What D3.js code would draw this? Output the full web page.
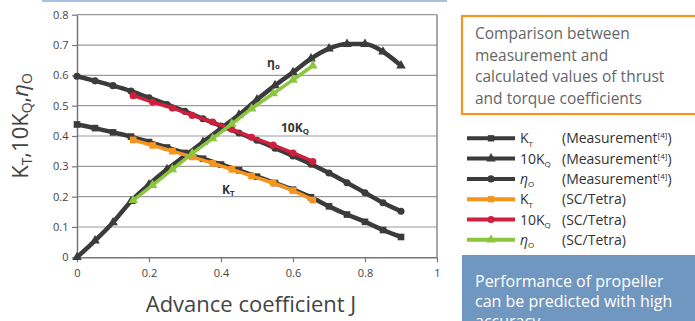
<!DOCTYPE html>
<html><head><meta charset="utf-8">
<script src="https://cdn.jsdelivr.net/npm/d3@7"></script>
<style>body{margin:0;background:#fff;}svg{display:block;font-family:"Open Sans",sans-serif;}</style>
</head><body>
<svg id="c" width="695" height="321"></svg>
<script>
// ---- data ----
const jMeas = [0,0.05,0.1,0.15,0.2,0.25,0.3,0.35,0.4,0.45,0.5,0.55,0.6,0.65,0.7,0.75,0.8,0.85,0.9];
const ktMeas = [0.438,0.426,0.412,0.398,0.38,0.362,0.344,0.325,0.306,0.287,0.266,0.245,0.223,0.198,0.168,0.141,0.117,0.09,0.067];
const kqMeas = [0.597,0.582,0.566,0.548,0.526,0.504,0.481,0.457,0.433,0.41,0.386,0.36,0.334,0.307,0.278,0.246,0.213,0.18,0.152];
const etaMeas = [0,0.055,0.115,0.185,0.24,0.29,0.335,0.38,0.425,0.47,0.52,0.567,0.61,0.655,0.688,0.703,0.703,0.678,0.632];
const jSC = [0.156,0.21,0.265,0.32,0.377,0.43,0.485,0.545,0.6,0.655];
const ktSC = [0.387,0.369,0.35,0.331,0.31,0.29,0.268,0.245,0.22,0.189];
const kqSC = [0.533,0.512,0.492,0.468,0.446,0.422,0.396,0.37,0.344,0.316];
const etaSC = [0.188,0.238,0.29,0.342,0.392,0.44,0.49,0.54,0.585,0.632];
const xTicks = [0,0.2,0.4,0.6,0.8,1];
const yTicks = [0,0.1,0.2,0.3,0.4,0.5,0.6,0.7,0.8];
const legendSym = ["K","10K","η"];
const legendSub = ["T","Q","O"];
const legendSrc = ["(Measurement","(Measurement","(Measurement","(SC/Tetra)","(SC/Tetra)","(SC/Tetra)"];
const boxText = ["Comparison between","measurement and","calculated values of thrust","and torque coefficients"];
const noteText = ["Performance of propeller","can be predicted with high","accuracy"];

const C = {dark:"#3b3b3b", orange:"#f7941d", red:"#cf1f3d", green:"#8cc63f"};
const svg = d3.select("#c");
const x = d3.scaleLinear().domain([0,1]).range([77,437]);
const y = d3.scaleLinear().domain([0,0.8]).range([257.3,14.7]);

// top blue rule
svg.append("line").attr("x1",42).attr("x2",447).attr("y1",1).attr("y2",1).attr("stroke","#a9c1dd").attr("stroke-width",2);

// grid
svg.append("g").selectAll("line").data(yTicks.slice(1)).join("line")
  .attr("x1",x(0)).attr("x2",x(1)).attr("y1",d=>y(d)).attr("y2",d=>y(d))
  .attr("stroke","#9a9a9a").attr("stroke-width",1.2);
// right frame
svg.append("line").attr("x1",x(1)).attr("x2",x(1)).attr("y1",y(0.8)).attr("y2",y(0)).attr("stroke","#8a8a8a").attr("stroke-width",1.5);

const xa = svg.append("g").attr("transform",`translate(0,${y(0)})`)
  .call(d3.axisBottom(x).tickValues(xTicks).tickFormat(d3.format("")).tickSize(5).tickSizeOuter(0));
const ya = svg.append("g").attr("transform",`translate(${x(0)},0)`)
  .call(d3.axisLeft(y).tickValues(yTicks).tickFormat(d3.format("")).tickSize(5).tickSizeOuter(0));
[xa,ya].forEach(a=>{
  a.select(".domain").attr("stroke","#777").attr("stroke-width",1.5);
  a.selectAll(".tick line").attr("stroke","#777").attr("stroke-width",1.2);
  a.selectAll("text").attr("fill","#444").style("font-size","11px").style("font-family","Open Sans");
});
xa.selectAll("text").attr("dy","1.1em");
ya.selectAll("text").attr("dx","-0.05em");

// series
function zip(js,vs){return js.map((j,i)=>[j,vs[i]]);}
const line = d3.line().x(d=>x(d[0])).y(d=>y(d[1])).curve(d3.curveMonotoneX);
const sym = {sq:d3.symbolSquare, tri:d3.symbolTriangle, cir:d3.symbolCircle};
const symSize = {sq:44, tri:40, cir:40};
function series(js,vs,color,w,mk){
  const pts = zip(js,vs);
  svg.append("path").attr("d",line(pts)).attr("fill","none").attr("stroke",color).attr("stroke-width",w).attr("stroke-linejoin","round");
  svg.append("g").selectAll("path").data(pts).join("path")
    .attr("transform",d=>`translate(${x(d[0])},${y(d[1])})`)
    .attr("d",d3.symbol().type(sym[mk]).size(symSize[mk])).attr("fill",color);
}
series(jMeas,ktMeas,C.dark,4.5,"sq");
series(jMeas,kqMeas,C.dark,4.5,"cir");
series(jMeas,etaMeas,C.dark,4.5,"tri");
series(jSC,ktSC,C.orange,3.5,"sq");
series(jSC,kqSC,C.red,3.5,"cir");
series(jSC,etaSC,C.green,3.5,"tri");

// in-plot labels
function lab(px,py,main,sub,fs){
  const t = svg.append("text").attr("x",px).attr("y",py).attr("fill","#333").style("font-weight","bold").style("font-size",fs+"px");
  t.append("tspan").text(main);
  t.append("tspan").text(sub).attr("dy",2).style("font-size",(fs*0.65)+"px");
}
lab(267,67,"η","o",12);
lab(281,132,"10K","Q",12);
lab(222,194,"K","T",12);

// axis titles
svg.append("text").attr("x",251).attr("y",312).attr("text-anchor","middle").attr("fill","#444").style("font-size","22px").text("Advance coefficient J");
const yt = svg.append("text").attr("transform","translate(28,126) rotate(-90)").attr("text-anchor","middle").attr("fill","#444").style("font-size","22px");
yt.append("tspan").text("K");
yt.append("tspan").text("T").attr("dy",4).style("font-size","14px");
yt.append("tspan").text(",10K").attr("dy",-4);
yt.append("tspan").text("Q").attr("dy",4).style("font-size","14px");
yt.append("tspan").text(",").attr("dy",-4);
yt.append("tspan").text("η").style("font-style","italic");
yt.append("tspan").text("O").attr("dy",4).style("font-size","14px");

// orange box
svg.append("rect").attr("x",462).attr("y",16).attr("width",240).attr("height",98).attr("fill","#fff").attr("stroke",C.orange).attr("stroke-width",2.2);
svg.append("g").selectAll("text").data(boxText).join("text")
  .attr("x",475).attr("y",(d,i)=>39+i*21.5).attr("fill","#666").style("font-size","15.5px").text(d=>d);

// legend
const legColors = [C.dark,C.dark,C.dark,C.orange,C.red,C.green];
const legMk = ["sq","tri","cir","sq","cir","tri"];
legColors.forEach((c,i)=>{
  const cy = 138.3 + i*20.3;
  svg.append("line").attr("x1",467).attr("x2",515).attr("y1",cy).attr("y2",cy).attr("stroke",c).attr("stroke-width",4);
  svg.append("path").attr("transform",`translate(491,${cy})`).attr("d",d3.symbol().type(sym[legMk[i]]).size(40)).attr("fill",c);
  const t = svg.append("text").attr("x",520).attr("y",cy+5).attr("fill","#333").style("font-size","14px");
  const k = i%3;
  t.append("tspan").text(legendSym[k]).style("font-style",k===2?"italic":"normal");
  t.append("tspan").text(legendSub[k]).attr("dy",3.5).style("font-size","8px");
  const s = svg.append("text").attr("x",562).attr("y",cy+5).attr("fill","#333").style("font-size","14px");
  s.append("tspan").text(legendSrc[i]);
  if(i<3){ s.append("tspan").text("[4]").attr("dy",-5).style("font-size","8px"); s.append("tspan").text(")").attr("dy",5); }
});

// blue note box
svg.append("rect").attr("x",462).attr("y",255).attr("width",240).attr("height",70).attr("fill","#7097bf");
svg.append("g").selectAll("text").data(noteText).join("text")
  .attr("x",475).attr("y",(d,i)=>287+i*20).attr("fill","#fff").style("font-size","16px").text(d=>d);
</script>
</body></html>
